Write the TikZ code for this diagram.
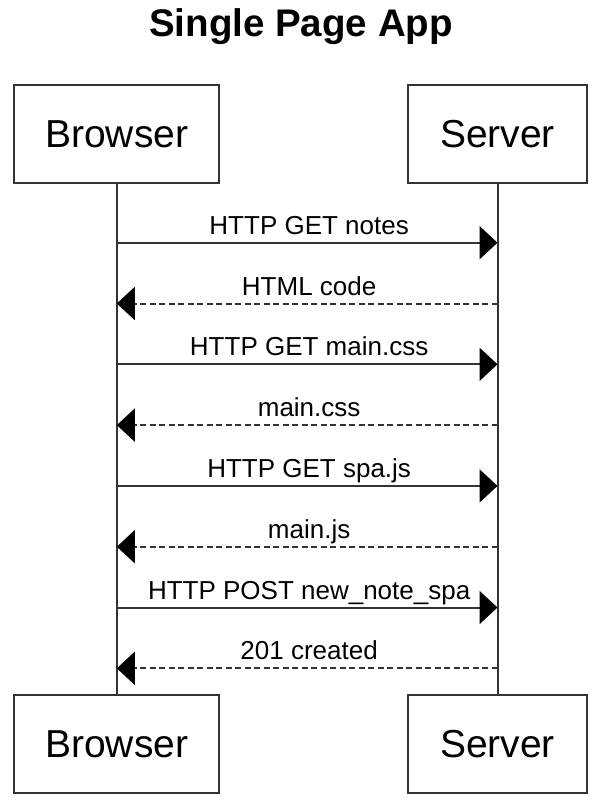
\documentclass[tikz,border=0pt]{standalone}
\usepackage{fontspec}
\setmainfont{Liberation Sans}
\usetikzlibrary{arrows.meta}
\definecolor{linegray}{HTML}{333333}
\tikzset{
  actor/.style={draw=linegray, line width=2pt, fill=white, inner sep=0pt,
    minimum height=98pt, text height=28pt, text depth=0pt,
    font=\fontsize{39}{47}\selectfont},
  lifeline/.style={draw=linegray, line width=2pt},
  call/.style={draw=linegray, line width=2pt,
    -{Triangle[length=18pt,width=33pt,color=black,fill=black]}},
  reply/.style={call, dash pattern=on 6pt off 3.5pt},
  msglabel/.style={pos=0.5, anchor=base, yshift=8.5pt, xshift=2pt,
    inner sep=0pt, font=\fontsize{26}{31}\selectfont}
}
\begin{document}
\begin{tikzpicture}[x=1pt, y=-1pt]
  \useasboundingbox (0,0) rectangle (610,812);

  % title
  \node[anchor=base, inner sep=0pt, font=\bfseries\fontsize{38.5}{46}\selectfont]
    (title) at (301,36) {Single Page App};

  % participants, top and bottom
  \node[actor, minimum width=205pt]   (bt) at (116.8,133.7) {Browser};
  \node[actor, minimum width=178.4pt] (st) at (497.5,133.7) {Server};
  \node[actor, minimum width=205pt]   (bb) at (116.8,743.7) {Browser};
  \node[actor, minimum width=178.4pt] (sb) at (497.5,743.7) {Server};

  % lifelines
  \draw[lifeline] (bt.south) -- (bb.north);
  \draw[lifeline] (st.south) -- (sb.north);

  % message anchors on the lifelines
  \foreach \i/\y in {1/242.7, 2/303.5, 3/364.3, 4/425.1,
                     5/485.9, 6/546.7, 7/607.5, 8/668.3} {
    \coordinate (b\i) at (bt.south |- 0,\y);
    \coordinate (s\i) at (st.south |- 0,\y);
  }

  % messages
  \draw[call]  (b1) -- (s1) node[msglabel] {HTTP GET notes};
  \draw[reply] (s2) -- (b2) node[msglabel] {HTML code};
  \draw[call]  (b3) -- (s3) node[msglabel] {HTTP GET main.css};
  \draw[reply] (s4) -- (b4) node[msglabel] {main.css};
  \draw[call]  (b5) -- (s5) node[msglabel] {HTTP GET spa.js};
  \draw[reply] (s6) -- (b6) node[msglabel] {main.js};
  \draw[call]  (b7) -- (s7) node[msglabel] {HTTP POST new\_note\_spa};
  \draw[reply] (s8) -- (b8) node[msglabel] {201 created};
\end{tikzpicture}
\end{document}
